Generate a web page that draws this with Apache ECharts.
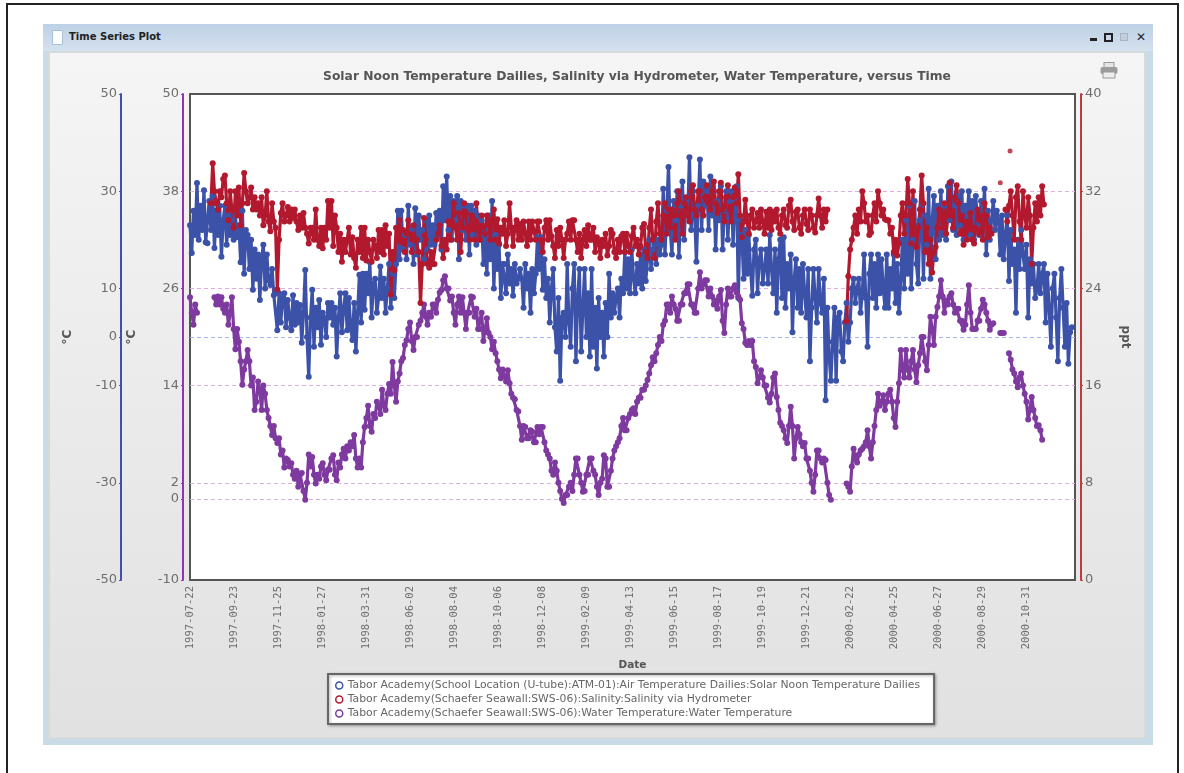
<!DOCTYPE html>
<html>
<head>
<meta charset="utf-8">
<title>Time Series Plot</title>
<script src="https://cdn.jsdelivr.net/npm/echarts@6/dist/echarts.min.js"></script>
<style>
  html, body { margin: 0; padding: 0; background: #fff; }
  #page { position: relative; width: 1184px; height: 773px; overflow: hidden; font-family: "DejaVu Sans", sans-serif; }
  #frame { position: absolute; left: 6px; top: 3px; width: 1169px; height: 780px; border: 2px solid #222; }
  #window { position: absolute; left: 43px; top: 24px; width: 1110px; height: 721px; background: #c9dbe6; }
  #titlebar { position: absolute; left: 0; top: 0; right: 0; height: 27px; background: linear-gradient(#bdd0e6, #d5e1ee); }
  #wintitle { position: absolute; left: 26px; top: 7px; font-size: 10px; font-weight: bold; color: #222; }
  #docicon { position: absolute; left: 9px; top: 6px; width: 9px; height: 13px; background: #fbfdff; border: 1px solid #a8c0da; border-radius: 1px; }
  #panel { position: absolute; left: 5px; top: 27px; width: 1094px; height: 684px; border: 2px solid #d5dadb; background: linear-gradient(#f5f5f5, #e1e1e1); }
  #chart { position: absolute; left: 0; top: 0; width: 1184px; height: 773px; }
  .btn { position: absolute; top: 7px; font-size: 12px; font-weight: bold; color: #222; line-height: 12px; }
</style>
</head>
<body>
<div id="page">
  <div id="frame"></div>
  <div id="window">
    <div id="titlebar">
      <div id="docicon"></div>
      <div id="wintitle">Time Series Plot</div>
      <div style="position:absolute;left:1047px;top:14px;width:7px;height:3px;background:#222"></div>
      <div style="position:absolute;left:1061px;top:9px;width:5px;height:5px;border:2px solid #222"></div>
      <div style="position:absolute;left:1077px;top:9px;width:6px;height:6px;border:1px solid #aab4c0;background:#c4cedb"></div>
      <div class="btn" style="left:1093px">✕</div>
    </div>
    <div id="panel"></div>
  </div>
  <div id="chart"></div>
  <svg style="position:absolute;left:1100px;top:62px" width="18" height="17">
    <rect x="4" y="0.5" width="10" height="5" fill="#e4e4e4" stroke="#999"/>
    <rect x="0.5" y="5" width="17" height="7" rx="2" fill="#9c9c9c"/>
    <rect x="3" y="10" width="12" height="6" fill="#eee" stroke="#999"/>
  </svg>
</div>
<script>
// one reading every 2.5 days from 1997-07-22, null where the record has a gap
var dayStep = 2.5;
var tickStep = 63;
var dateLabels = ["1997-07-22","1997-09-23","1997-11-25","1998-01-27","1998-03-31","1998-06-02","1998-08-04","1998-10-06","1998-12-08","1999-02-09","1999-04-13","1999-06-15","1999-08-17","1999-10-19","1999-12-21","2000-02-22","2000-04-25","2000-06-27","2000-08-29","2000-10-31"];

var airName = "Tabor Academy(School Location (U-tube):ATM-01):Air Temperature Dailies:Solar Noon Temperature Dailies";
var salinityName = "Tabor Academy(Schaefer Seawall:SWS-06):Salinity:Salinity via Hydrometer";
var waterName = "Tabor Academy(Schaefer Seawall:SWS-06):Water Temperature:Water Temperature";

var airTemp = [
  23,17.3,26,21,31.7,20,27,22,30.2,19.5,
  19.3,28,22,29,18.3,26,21,27,16.5,24,
  27,19,25,21,24,20,25,20.6,23,15.4,
  26,13,22,21,14,20,9.7,18,12,17,
  7.6,16,19,10,17,11.7,10.7,14,8.6,9,
  1.4,9,3,8,9,2,7.6,4,1.4,8.6,
  2.5,7,3,6.6,-1.2,5,13.8,0,-8.2,4,
  9.7,-2,6,2,7.6,-1.6,5,3.9,0,7,
  4,7,2.5,6,-4,4,9,1,6,9,
  1.4,8,2,-0.6,7,-3,5,12.8,3,13,
  5.6,13,9,15.4,4,11,12,5,8,14.5,
  8,12,5,10,15,6,13,8,15,26,
  16,26,18,21,16,27,19,22,15,26.5,
  17,25,20,22,16,24,18,25,19,23,
  19,25.5,21,26,18,31,24,33,22,29,
  20,28,24,29,16,28,22,27,20,27,
  17,27,21,26,19,25,20,24,15,22,
  13,25,16,28,10,21,14,19,8,15,
  15,9,17,11,14,8.5,15,11,12,14,
  12,6,15,10,13,5,14,9,13,20.5,
  14,20.5,9.7,16,8,12,3,10,14,2,
  -3,8,-9,4,5,0,15,3,-2,10,
  15,-5,8,14,-3,6,14,0,9,-4,
  14,-2,6,-6.5,8,0,5,-4,7,0,
  13,4,9,5,8,10,4,12,9,17.5,
  10,16,9,18,12,9,15,11,17,10,
  18,11.5,16,20,14,18,19,15,20,17,
  19,30.5,17,26,35,22,17,28,24,30,
  16.5,27,32,20,28,25,37,22,30,25,
  15.5,27,36.5,22,32,27,30,22,33,25,
  30,18,28,24,31,18,26,30,20,28,
  30,19,28,31,8,24,21,12,22,13,
  21,14,8.5,18,20,9,16,18,11,14,
  18,11,21,14,9,18,5,16,20,8,
  20.5,6,15,10,17,1,12,16,6,14,
  5,15,9,4,14,-5,6,14,8,3,
  14,7,5,12,-13,6,-4,-9,-1,6,
  -9,4,5,-3,-5,3,7,-1,3,10,
  12,7,10,12,5,9,17,8,-2,13,
  17,8,15,6,17,9,16,10,6,17,
  6,14,10,17,7,15,5,12,20,10,
  24,13,27,10,20,28,15,11,24,27,
  12,25,19,30.5,12,24,29,16,27,20,
  30,21,27,20,31,24,32,22,27,21,
  29,23,30,20,27,24,30,21,28,20,
  29,23,21,28,25,30.5,17,26,20,24,
  28,22,26,24,17,25,16,21,25,11.5,
  22,15,18,5,20,14,22,17,14,19,
  4,16,11,15,8,10,15,9,13,15,
  3,13,6,-2,10,13,4,-5,8,14,
  6,-2,7,-5.5,1,2
];

var salinity = [
  null,null,null,null,null,null,null,null,null,null,
  null,null,31,34.3,32,31,30.5,32,31.5,33,
  33.3,31,29.6,32,30.5,29,32,30,32.3,29.2,
  31,33.5,32,31,31.5,32.3,30.5,31.5,30.5,31,
  30,31.5,29.2,30,32,29.5,28.7,31,29.5,29,
  23.9,28,30.2,31,29.5,30,30.7,29.5,30.5,29.8,
  30.5,29.5,28.8,30,29,30.2,29,28.5,27.7,29,
  29,28,30.5,28,27.5,29,27.3,29,28,31.2,
  29,31.2,27.5,30,29,27,28.5,26.2,28,27,
  28,29,26.8,28.2,26.5,25.7,28,27,29,26.5,
  29,26.3,28,27,26.2,28,27.5,26.5,28.8,27,
  28.8,26.8,29.2,27.5,28.5,23.5,27,25.5,29,28,
  29.6,27.8,28.8,27,28.5,29.6,28.5,27,29.2,28,
  28,27,22.8,26,29.8,28,26,25.7,27,26,
  26,28,28.5,29.2,27.5,26.5,28,27.2,29.5,28,
  29.5,31,29,28,30.2,27,29,31,30.2,28.8,
  28,30,29,28,31,29,28,30,29,28.5,
  30,29.5,28,29.7,30.5,28,29.7,27.7,29,28.5,
  29.6,27.5,28.5,31,29,27.5,29,29.6,28,29.3,
  28,29.5,28.5,27.5,29.5,28,29.5,28.7,28,29.5,
  29.5,28,27,29,29.6,28,29.6,28.3,27.5,26.5,
  28.8,27.5,29,28,26.5,28,28.5,29.5,28,29.6,
  29.6,28,27,28.5,26.5,28,28.8,27.5,29.2,28,
  28,29,27,28.2,27.8,26.5,28,27.5,28.5,26.7,
  27.5,28.8,28.5,27,26.5,28,27,28.3,28.5,27,
  28.5,27.5,27,28.3,29,27.5,28,26.8,27.5,29,
  29.3,27,26.5,29,30.5,28,26.5,29.5,31,28.5,
  28,30,31,28.5,30.5,29,30.5,30,28,31,
  32,30,28.5,31,31.5,30,29.5,32,32.5,30.5,
  30,32,32,30.5,30,31.5,32.5,31,30.5,32,
  32.8,31,30.2,32,32.7,30.5,29.5,31.5,32.5,30.5,
  29.5,31.5,32.3,31,33.4,30,28.2,29.5,31.3,29.5,
  28.5,30,30.5,29,29.5,30.2,29,30.5,29.5,28.5,
  30.3,29,30.5,28.8,30.3,29.5,30.5,29,28.5,30,
  30.5,29.2,29,30.8,31.3,29.5,28.8,30.3,30.5,29,
  28.5,30,30.5,29.3,28.8,30.5,30,29,28.6,30,
  31.4,30,29,30.5,29.5,30.5,null,null,null,null,
  null,null,null,null,null,null,21.3,25,27.2,28,
  29,30,28.5,30.5,29.5,32,31,29.5,30,28.4,
  28.6,30,31,29.5,32,31,30,30.5,29.7,29.6,
  29.6,28.5,29,27,28,26.7,27.7,30,31,28.5,
  30,33,31,27.7,32,28.5,27.4,29,30.5,33.3,
  31,27,29,26,28,25.3,27,27.4,29,30.5,
  30,29,31,28.5,30,32.7,30,29,31.5,32.5,
  31,28.5,30,27.6,29.5,28,29.5,30.2,28,27.7,
  29,30.5,28.5,30,28,31,30,28.2,29,28.5,
  null,null,null,null,null,null,null,30.5,29.5,30.8,
  32,30,28,31.5,32.4,29.5,28,32,30,29,
  31.5,30,26,29,31,29.5,31.5,30,32.4,30.9
];

// single readings that stand apart from the salinity run: [day, ppt]
var salinityLone = [[1160, 32.7], [1165, 28.6], [1174, 35.3]];

var waterTemp = [
  24.9,23,21.5,24,23,null,null,null,null,null,
  null,null,null,null,24.9,24,25,24,24.9,23.5,
  23,24,21.5,23,24.9,21,18.5,21,19.4,17,
  14.1,16,17,18.4,17,14,15,11,12,14.5,
  13.5,11,14,13,11,10,9,7.9,9,7.5,
  6.9,7.5,5.5,6,3.9,5,4.8,4,4.4,3,
  2.5,3.5,1.5,3,3.2,1,-0.1,2,5.5,4,
  5.2,3,1.9,3,2.5,4,4.4,3,2.3,3.6,
  3.6,5,5.4,3,2.3,4.5,3.9,5.5,6.2,5,
  6.5,6,7,6.5,7.9,5,3.9,5,3.9,7,
  8.9,10,11.5,9,8.3,10.5,10,12,11.5,10.5,
  13.5,11.5,11,13,14.2,13,16.9,14,12,14.5,
  15.5,17,17.4,19,19.6,21,21.8,19.5,18.4,20,
  20,21.5,22,23,24,22.5,21.5,23,22.5,24,
  24,23,24.6,25.5,25.8,27,27.5,26,26,24.5,
  25,23,21.5,24,25,23,24.9,23,21,23,
  23,25,24.9,22.5,23.5,21,21,23,19.5,21,
  22.3,20.5,20,18.5,19.4,18,17,16,14.9,16,
  15.2,14.5,15.9,14.3,13,12.5,12.3,11,10.8,9,
  7.3,9,8.9,7.5,7.5,8.5,8.3,7,7,8.9,
  8,8.9,8.9,7,6,5.5,5,3.5,3,4.5,
  3.5,2,1,0,-0.5,0.5,0.5,1.5,2,1,
  3,5,5,3,2,0.9,1,3,3,5,
  5,3.5,3,1.5,0.5,2,2.5,5.4,5,1.5,
  1.5,3.5,5,6,6.5,7,7.5,9,10,8.5,
  8.5,10,10.5,11,11.2,10.5,12,12.5,12.5,13.5,
  13.5,14,14.7,15.5,16.5,17.5,17,18,19,20,
  19.5,21.5,22,24,24,23,25,24,23.5,22,
  22,24,24,25.4,25.4,26.5,26.5,24,24,23,
  23,26,28,26,26.5,27,27,25,26,25,
  24,24.5,23.5,25,25.8,22,20.5,24,26,25,
  25,26,26.4,25.5,25,24.6,21.7,21,19.3,19,
  19.5,19,19.5,17,16.3,14.3,15,15.9,15,14,
  14,12.5,11.9,13,15,15.5,12.6,11,9.4,9,
  8.5,7.5,6.9,9,11.4,9,5,7.5,8.9,8,
  7,6.5,6.9,5,5,3.5,2,0.9,3,6,
  6,5,4.5,5,4.8,2,0.5,-0.1,null,null,
  null,null,null,null,null,null,1.9,1.5,0.9,4,
  6.2,5,4.5,5.5,6,6.2,6.5,7,8.5,6.5,
  5,7,9,11,13,11.5,12,12.8,11,12,
  13,13.5,12,10,8.9,12,14.3,18.4,16,15,
  18.4,16,15,17,18.4,16,14.4,16.5,18,20,
  20,17,15.9,19,22.5,21,19,22.5,23.7,25,
  27,25,23,24.5,24,25,25.4,24,23,23.5,
  23.5,22,22,20.9,21.5,24,26.4,23,21,21,
  21,22,22,23.5,24.6,24,23,22,20.9,21.5,
  21.7,null,null,null,20.5,20.5,20.5,null,null,18,
  17.2,16,15.5,14.5,13.8,15,15.5,14,13,12,
  9.8,11,12.6,11,10,9,9.1,8.5,7.3
];

var airTicks = [50, 30, 10, 0, -10, -30, -50];
var waterTicks = [50, 38, 26, 14, 2, 0, -10];
var salinityTicks = [0, 8, 16, 24, 32, 40];

var airColor = "#3b52a8";
var salinityColor = "#b3192e";
var waterColor = "#7e3a9f";

function withDays(values) {
  return values.map(function (v, i) { return [i * dayStep, v]; });
}

function lineSeries(name, values, color, axisIndex) {
  return {
    name: name,
    type: "line",
    yAxisIndex: axisIndex,
    data: withDays(values),
    showSymbol: true,
    showAllSymbol: true,
    symbol: "circle",
    symbolSize: 6,
    connectNulls: false,
    animation: false,
    lineStyle: { color: color, width: 3.2 },
    itemStyle: { color: color }
  };
}

function sideAxis(position, offset, min, max, ticks, color, name, nameGap, nameRotate) {
  return {
    type: "value",
    position: position,
    offset: offset,
    min: min,
    max: max,
    name: name,
    nameLocation: "middle",
    nameGap: nameGap,
    nameRotate: nameRotate,
    nameTextStyle: { color: "#555", fontSize: 12, fontWeight: "bold", fontFamily: "DejaVu Sans" },
    axisLine: { show: true, onZero: false, lineStyle: { color: color, width: 2 } },
    axisTick: { show: true, customValues: ticks, length: 2, lineStyle: { color: color } },
    axisLabel: { customValues: ticks, color: "#6e6e6e", fontSize: 13, margin: 4, fontFamily: "DejaVu Sans" },
    splitLine: { show: false }
  };
}

var waterAxis = sideAxis("left", 7, -10, 50, waterTicks, "#9232b4", "°C", 45, 90);
waterAxis.splitLine = { show: true, showMinLine: false, showMaxLine: false, lineStyle: { color: "#dcaee2", type: [4, 3], width: 1 } };
var airAxis = sideAxis("left", 69, -50, 50, airTicks, "#3f4fb0", "°C", 47, 90);
var salinityAxis = sideAxis("right", 6, 0, 40, salinityTicks, "#c03a3e", "ppt", 38, -90);

var airSeries = lineSeries(airName, airTemp, airColor, 0);
// the zero line of the air axis is dashed blue, the others follow the water axis
airSeries.markLine = {
  silent: true,
  symbol: "none",
  z: 1,
  label: { show: false },
  lineStyle: { color: "#a9b4ee", type: [4, 3], width: 1 },
  data: [{ yAxis: 0 }],
  animation: false
};

var chart = echarts.init(document.getElementById("chart"), null, { renderer: "canvas" });
chart.setOption({
  backgroundColor: "transparent",
  animation: false,
  title: {
    text: "Solar Noon Temperature Dailies, Salinity via Hydrometer, Water Temperature, versus Time",
    left: 632,
    top: 66,
    textAlign: "center",
    textStyle: { color: "#555", fontSize: 12.3, fontWeight: "bold", fontFamily: "DejaVu Sans" }
  },
  grid: {
    left: 190, right: 109, top: 94, bottom: 193,
    show: true, backgroundColor: "#fff", borderColor: "#555", borderWidth: 2
  },
  legend: {
    left: 328,
    top: 674,
    orient: "vertical",
    data: [
      { name: airName, itemStyle: { color: "#fff", borderColor: airColor, borderWidth: 1.5 } },
      { name: salinityName, itemStyle: { color: "#fff", borderColor: salinityColor, borderWidth: 1.5 } },
      { name: waterName, itemStyle: { color: "#fff", borderColor: waterColor, borderWidth: 1.5 } }
    ],
    icon: "circle",
    itemWidth: 7,
    itemHeight: 7,
    itemGap: 3,
    padding: [6, 14, 5, 7],
    backgroundColor: "#fff",
    borderColor: "#666",
    borderWidth: 2,
    shadowColor: "rgba(0,0,0,0.3)",
    shadowBlur: 3,
    shadowOffsetX: 1,
    shadowOffsetY: 1,
    selectedMode: false,
    textStyle: { color: "#666", fontSize: 10.8, fontFamily: "DejaVu Sans" }
  },
  xAxis: {
    type: "value",
    min: 0,
    max: 1267,
    interval: tickStep,
    name: "Date",
    nameLocation: "middle",
    nameGap: 80,
    nameTextStyle: { color: "#555", fontSize: 10.5, fontWeight: "bold", fontFamily: "DejaVu Sans" },
    axisLine: { show: false },
    axisTick: { show: false },
    splitLine: { show: false },
    axisLabel: {
      rotate: 90,
      margin: 6,
      color: "#6e6e6e",
      fontSize: 10.5,
      fontFamily: "DejaVu Sans Mono",
      formatter: function (v) { return dateLabels[v / tickStep] || ""; }
    }
  },
  yAxis: [airAxis, waterAxis, salinityAxis],
  series: [
    airSeries,
    lineSeries(waterName, waterTemp, waterColor, 1),
    lineSeries(salinityName, salinity, salinityColor, 2),
    {
      type: "scatter",
      yAxisIndex: 2,
      data: salinityLone,
      symbolSize: 5,
      animation: false,
      itemStyle: { color: salinityColor }
    }
  ]
});
</script>
</body>
</html>
